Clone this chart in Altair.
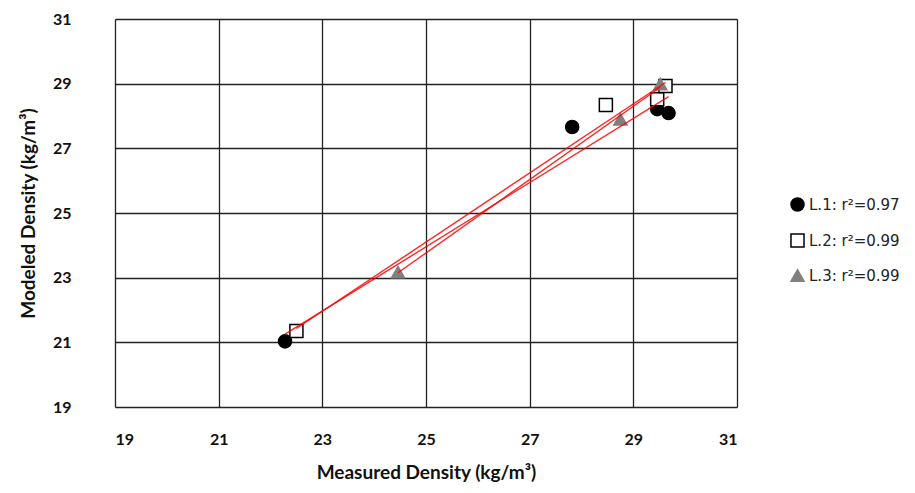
import altair as alt
import pandas as pd

labels = ["L.1: r\u00b2=0.97", "L.2: r\u00b2=0.99", "L.3: r\u00b2=0.99"]
x1 = [22.28, 27.82, 29.46, 29.68]
y1 = [21.03, 27.66, 28.21, 28.09]
x2 = [22.50, 28.47, 29.46, 29.62]
y2 = [21.35, 28.34, 28.52, 28.93]
x3 = [24.46, 28.75, 29.52]
y3 = [23.17, 27.90, 28.99]
ticks = [19, 21, 23, 25, 27, 29, 31]

rows = []
for lab, xs, ys in zip(labels, [x1, x2, x3], [y1, y2, y3]):
    for a, b in zip(xs, ys):
        rows.append({"series": lab, "measured": a, "modeled": b})
df = pd.DataFrame(rows)

xs = alt.Scale(domain=[19, 31], nice=False)
ys = alt.Scale(domain=[19, 31], nice=False)

xax = alt.Axis(values=ticks, title="Measured Density (kg/m\u00b3)", grid=True, ticks=False,
               domain=False, labelPadding=24, titlePadding=16, labelFont="Lato",
               labelFontWeight="bold", labelFontSize=16, labelColor="#111",
               titleFont="Lato", titleFontSize=19, titleFontWeight="bold", titleColor="#111",
               gridColor="#222", gridWidth=1.3)
yax = alt.Axis(values=ticks, title="Modeled Density (kg/m\u00b3)", grid=True, ticks=False,
               domain=False, labelPadding=44, titlePadding=14, labelFont="Lato",
               labelFontWeight="bold", labelFontSize=16, labelColor="#111",
               titleFont="Lato", titleFontSize=19, titleFontWeight="bold", titleColor="#111",
               gridColor="#222", gridWidth=1.3)

legend = alt.Legend(title=None, orient="none", legendX=675, legendY=178,
                    labelFont="DejaVu Sans", labelFontSize=15, labelColor="#222",
                    symbolSize=170, rowPadding=15, labelOffset=4)

points = alt.Chart(df).mark_point(opacity=1, strokeWidth=1.5, size=170).encode(
    x=alt.X("measured:Q", scale=xs, axis=xax),
    y=alt.Y("modeled:Q", scale=ys, axis=yax),
    shape=alt.Shape("series:N", scale=alt.Scale(domain=labels, range=["circle", "square", "triangle-up"]), legend=legend),
    fill=alt.Fill("series:N", scale=alt.Scale(domain=labels, range=["#000000", "#ffffff", "#808080"]), legend=legend),
    stroke=alt.Stroke("series:N", scale=alt.Scale(domain=labels, range=["#000000", "#000000", "#808080"]), legend=legend),
)

lines = alt.Chart(df).transform_regression(
    "measured", "modeled", groupby=["series"]
).mark_line(color="#ff0000", strokeWidth=1.4, opacity=0.85).encode(
    x=alt.X("measured:Q", scale=xs),
    y=alt.Y("modeled:Q", scale=ys),
    detail="series:N",
)

chart = alt.layer(points, lines).properties(
    width=622, height=388,
    autosize=alt.AutoSizeParams(type="none"),
    padding={"left": 107, "top": 11, "right": 170, "bottom": 84},
).configure_view(stroke="#222", strokeWidth=1.3).configure(background="white")

chart.save("out.html", embed_options={"renderer": "svg", "actions": False})
